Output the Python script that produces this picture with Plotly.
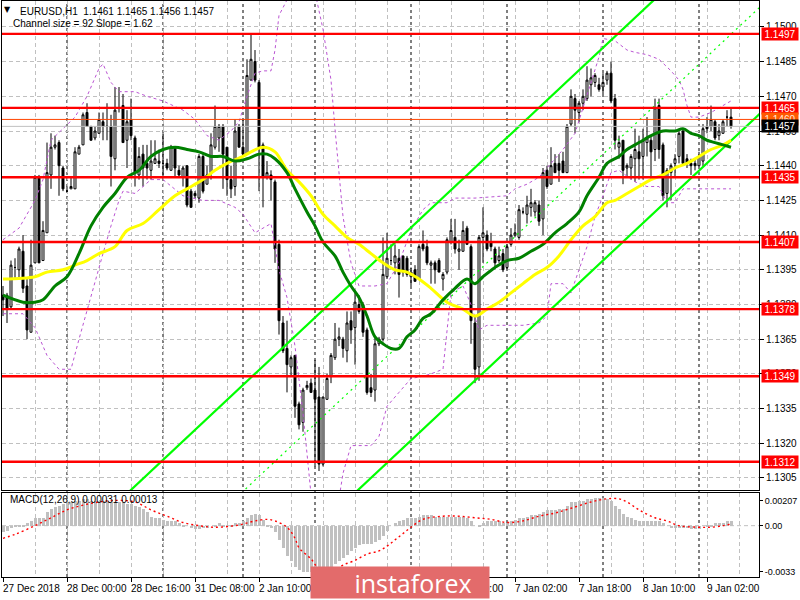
import plotly.graph_objects as go

# ---------------- DATA ----------------
bars = list(range(183))
opens = [1.1384,1.1384,1.1379,1.1396,1.1395,1.1403,1.1388,1.1368,1.1398,1.1435,
         1.1399,1.1411,1.1436,1.1448,1.1450,1.1439,1.1429,1.1430,1.1430,1.1445,
         1.1449,1.1463,1.1457,1.1452,1.1454,1.1459,1.1457,1.1457,1.1443,1.1465,
         1.1466,1.1451,1.1460,1.1452,1.1436,1.1445,1.1441,1.1438,1.1441,1.1442,
         1.1441,1.1441,1.1438,1.1448,1.1438,1.1435,1.1440,1.1429,1.1428,1.1426,
         1.1444,1.1432,1.1437,1.1448,1.1452,1.1457,1.1448,1.1434,1.1431,1.1457,
         1.1448,1.1445,1.1477,1.1485,1.1476,1.1449,1.1435,1.1436,1.1433,1.1406,
         1.1372,1.1361,1.1353,1.1358,1.1337,1.1329,1.1344,1.1346,1.1343,1.1340,
         1.1311,1.1339,1.1349,1.1357,1.1365,1.1365,1.1360,1.1373,1.1370,1.1380,
         1.1380,1.1369,1.1344,1.1343,1.1363,1.1365,1.1392,1.1399,1.1398,1.1400,
         1.1401,1.1400,1.1392,1.1395,1.1391,1.1406,1.1405,1.1397,1.1398,1.1399,
         1.1391,1.1394,1.1407,1.1409,1.1403,1.1403,1.1413,1.1405,1.1372,1.1353,
         1.1409,1.1410,1.1407,1.1404,1.1399,1.1402,1.1396,1.1406,1.1410,1.1409,
         1.1420,1.1419,1.1422,1.1420,1.1423,1.1417,1.1438,1.1432,1.1441,1.1441,
         1.1442,1.1437,1.1458,1.1469,1.1463,1.1467,1.1469,1.1475,1.1476,1.1475,
         1.1474,1.1477,1.1480,1.1469,1.1448,1.1451,1.1439,1.1439,1.1443,1.1446,
         1.1444,1.1450,1.1451,1.1447,1.1466,1.1449,1.1428,1.1437,1.1441,1.1444,
         1.1455,1.1443,1.1441,1.1441,1.1440,1.1442,1.1457,1.1457,1.1459,1.1453,
         1.1454,1.1461,1.1461]
highs = [1.1388,1.1385,1.1399,1.1400,1.1405,1.1410,1.1391,1.1408,1.1436,1.1436,
         1.1416,1.1450,1.1454,1.1453,1.1451,1.1440,1.1431,1.1435,1.1448,1.1449,
         1.1463,1.1467,1.1457,1.1457,1.1463,1.1463,1.1467,1.1462,1.1474,1.1474,
         1.1471,1.1464,1.1469,1.1453,1.1448,1.1449,1.1449,1.1451,1.1451,1.1447,
         1.1454,1.1443,1.1449,1.1448,1.1440,1.1440,1.1440,1.1430,1.1429,1.1445,
         1.1445,1.1440,1.1454,1.1466,1.1458,1.1458,1.1448,1.1440,1.1460,1.1458,
         1.1460,1.1486,1.1497,1.1490,1.1477,1.1450,1.1442,1.1438,1.1434,1.1408,
         1.1375,1.1373,1.1358,1.1358,1.1338,1.1344,1.1347,1.1348,1.1356,1.1353,
         1.1340,1.1350,1.1359,1.1372,1.1370,1.1366,1.1377,1.1377,1.1386,1.1384,
         1.1381,1.1370,1.1350,1.1366,1.1366,1.1409,1.1411,1.1406,1.1406,1.1404,
         1.1401,1.1401,1.1396,1.1397,1.1406,1.1412,1.1408,1.1399,1.1399,1.1400,
         1.1394,1.1409,1.1417,1.1417,1.1408,1.1416,1.1414,1.1406,1.1375,1.1410,
         1.1422,1.1412,1.1411,1.1405,1.1405,1.1404,1.1406,1.1413,1.1415,1.1423,
         1.1422,1.1427,1.1430,1.1425,1.1425,1.1439,1.1440,1.1448,1.1445,1.1445,
         1.1446,1.1458,1.1473,1.1471,1.1468,1.1473,1.1483,1.1482,1.1480,1.1478,
         1.1480,1.1481,1.1485,1.1471,1.1453,1.1451,1.1441,1.1445,1.1456,1.1453,
         1.1456,1.1461,1.1453,1.1469,1.1469,1.1450,1.1439,1.1441,1.1445,1.1456,
         1.1456,1.1445,1.1443,1.1443,1.1446,1.1458,1.1461,1.1466,1.1460,1.1458,
         1.1460,1.1464,1.1465]
lows = [1.1375,1.1372,1.1378,1.1391,1.1391,1.1385,1.1365,1.1368,1.1398,1.1398,
        1.1399,1.1411,1.1430,1.1447,1.1427,1.1429,1.1429,1.1430,1.1430,1.1445,
        1.1449,1.1457,1.1451,1.1451,1.1454,1.1451,1.1451,1.1431,1.1438,1.1463,
        1.1450,1.1439,1.1451,1.1431,1.1434,1.1431,1.1434,1.1434,1.1441,1.1439,
        1.1435,1.1438,1.1438,1.1435,1.1435,1.1431,1.1422,1.1422,1.1426,1.1424,
        1.1428,1.1432,1.1434,1.1447,1.1446,1.1430,1.1427,1.1426,1.1427,1.1448,
        1.1445,1.1445,1.1477,1.1476,1.1429,1.1422,1.1434,1.1425,1.1398,1.1367,
        1.1359,1.1342,1.1349,1.1331,1.1326,1.1325,1.1343,1.1342,1.1310,1.1308,
        1.1310,1.1339,1.1346,1.1356,1.1362,1.1357,1.1355,1.1363,1.1354,1.1376,
        1.1366,1.1341,1.1340,1.1338,1.1362,1.1364,1.1391,1.1397,1.1393,1.1383,
        1.1392,1.1392,1.1388,1.1390,1.1391,1.1403,1.1397,1.1389,1.1389,1.1394,
        1.1386,1.1393,1.1406,1.1402,1.1395,1.1403,1.1406,1.1363,1.1346,1.1347,
        1.1398,1.1403,1.1403,1.1396,1.1398,1.1394,1.1395,1.1405,1.1409,1.1408,
        1.1419,1.1415,1.1418,1.1418,1.1414,1.1410,1.1430,1.1432,1.1437,1.1433,
        1.1437,1.1437,1.1457,1.1454,1.1459,1.1464,1.1468,1.1470,1.1474,1.1472,
        1.1471,1.1475,1.1467,1.1447,1.1443,1.1432,1.1435,1.1434,1.1433,1.1434,
        1.1434,1.1444,1.1434,1.1442,1.1443,1.1425,1.1422,1.1425,1.1435,1.1441,
        1.1440,1.1439,1.1436,1.1438,1.1440,1.1440,1.1454,1.1455,1.1451,1.1451,
        1.1454,1.1457,1.1456]
closes = [1.1382,1.1378,1.1397,1.1396,1.1404,1.1387,1.1369,1.1397,1.1435,1.1398,
          1.1412,1.1437,1.1448,1.1449,1.1440,1.1430,1.1429,1.1431,1.1446,1.1448,
          1.1462,1.1457,1.1451,1.1455,1.1460,1.1457,1.1457,1.1444,1.1464,1.1465,
          1.1450,1.1459,1.1453,1.1437,1.1444,1.1439,1.1439,1.1442,1.1443,1.1441,
          1.1441,1.1439,1.1448,1.1439,1.1436,1.1439,1.1423,1.1422,1.1427,1.1444,
          1.1429,1.1436,1.1449,1.1457,1.1457,1.1445,1.1434,1.1430,1.1455,1.1448,
          1.1445,1.1479,1.1486,1.1477,1.1448,1.1435,1.1437,1.1434,1.1404,1.1373,
          1.1360,1.1354,1.1357,1.1336,1.1328,1.1343,1.1345,1.1342,1.1339,1.1311,
          1.1340,1.1348,1.1358,1.1365,1.1366,1.1361,1.1372,1.1369,1.1381,1.1377,
          1.1368,1.1342,1.1342,1.1363,1.1365,1.1393,1.1400,1.1399,1.1401,1.1393,
          1.1394,1.1393,1.1394,1.1390,1.1405,1.1404,1.1398,1.1398,1.1395,1.1394,
          1.1393,1.1408,1.1412,1.1404,1.1404,1.1412,1.1406,1.1373,1.1352,1.1409,
          1.1411,1.1404,1.1405,1.1398,1.1401,1.1395,1.1405,1.1410,1.1411,1.1421,
          1.1420,1.1423,1.1424,1.1424,1.1416,1.1437,1.1431,1.1440,1.1437,1.1438,
          1.1437,1.1457,1.1470,1.1464,1.1467,1.1470,1.1477,1.1478,1.1479,1.1473,
          1.1476,1.1480,1.1468,1.1451,1.1450,1.1438,1.1440,1.1444,1.1447,1.1443,
          1.1451,1.1452,1.1446,1.1465,1.1447,1.1427,1.1438,1.1440,1.1443,1.1454,
          1.1441,1.1441,1.1440,1.1440,1.1444,1.1456,1.1456,1.1460,1.1452,1.1455,
          1.1459,1.1461,1.1457]

# moving averages (sampled readings)
ma_green_bars = [0,5,8,10,13,16,19,22,25,28,31,34,37,40,43,46,49,52,55,58,61,64,66,68,71,73,76,78,80,83,85,87,89,91,93,95,97,99,101,103,105,107,110,113,116,118,120,123,126,129,132,135,138,141,144,146,149,151,154,156,159,162,165,168,170,172,174,176,178,180,182]
ma_green_vals = [1.1384,1.1381,1.1381,1.1382,1.1388,1.1392,1.1402,1.1414,1.1422,1.1428,1.1435,1.1438,1.1444,1.1447,1.1448,1.1447,1.1446,1.1444,1.1444,1.1442,1.1443,1.1445,1.1445,1.1443,1.1437,1.1430,1.1420,1.1414,1.1407,1.1401,1.1394,1.1388,1.1383,1.1375,1.1366,1.1363,1.1361,1.1361,1.1366,1.1369,1.1374,1.1376,1.1382,1.1387,1.1391,1.1389,1.1392,1.1396,1.1399,1.1400,1.1403,1.1406,1.1411,1.1415,1.1420,1.1427,1.1435,1.1441,1.1444,1.1447,1.1450,1.1453,1.1455,1.1455,1.1456,1.1454,1.1453,1.1451,1.1450,1.1449,1.1448]
ma_yellow_bars = [0,8,11,15,18,21,24,28,31,35,39,43,46,50,53,56,60,62,65,68,71,74,77,80,83,86,89,92,95,98,101,104,107,111,115,118,121,124,127,130,133,136,139,142,145,148,151,153,156,159,162,165,168,171,174,177,180,182]
ma_yellow_vals = [1.1391,1.1392,1.1394,1.1395,1.1397,1.1399,1.1402,1.1405,1.1412,1.1415,1.1421,1.1427,1.1430,1.1434,1.1438,1.1441,1.1444,1.1446,1.1448,1.1446,1.1438,1.1433,1.1427,1.1419,1.1414,1.1409,1.1406,1.1402,1.1398,1.1395,1.1394,1.1391,1.1387,1.1381,1.1378,1.1375,1.1378,1.1381,1.1385,1.1389,1.1393,1.1396,1.1401,1.1408,1.1414,1.1418,1.1424,1.1425,1.1428,1.1431,1.1434,1.1436,1.1439,1.1441,1.1444,1.1447,1.1449,1.1451]

# bands (sampled readings)
band_up_bars = [0,4,8,10,12,15,18,21,24,25,27,29,33,36,40,45,48,51,54,57,59,61,63,65,67,68,69,72,78,80,82,83,85,87,89,93,96,99,102,105,107,111,113,118,126,128,131,134,137,140,143,146,149,150,153,156,158,161,164,167,169,170,171,172,174,177,180,182]
band_up_vals = [1.1408,1.1413,1.1425,1.1434,1.1451,1.1456,1.1461,1.1470,1.1482,1.1484,1.1476,1.1472,1.1472,1.1470,1.1468,1.1464,1.1460,1.1453,1.1451,1.1455,1.1459,1.1470,1.1480,1.1481,1.1481,1.1490,1.1505,1.1515,1.1515,1.1499,1.1477,1.1456,1.1418,1.1398,1.1388,1.1388,1.1389,1.1398,1.1412,1.1421,1.1424,1.1424,1.1426,1.1426,1.1427,1.1430,1.1432,1.1435,1.1441,1.1447,1.1454,1.1470,1.1487,1.1495,1.1494,1.1490,1.1489,1.1488,1.1486,1.1481,1.1477,1.1473,1.1466,1.1461,1.1461,1.1463,1.1466,1.1468]
band_lo_bars = [0,5,8,11,14,17,19,22,25,27,29,30,33,37,40,45,50,54,58,60,63,64,66,67,69,71,73,75,77,79,83,85,87,92,94,96,99,102,105,107,110,112,115,117,119,121,130,134,136,137,140,142,144,146,148,150,152,154,158,161,164,166,168,170,174,178,182]
band_lo_vals = [1.1376,1.1376,1.1370,1.1358,1.1352,1.1352,1.1365,1.1384,1.1402,1.1414,1.1425,1.1429,1.1428,1.1434,1.1434,1.1427,1.1425,1.1425,1.1422,1.1419,1.1411,1.1412,1.1414,1.1415,1.1395,1.1383,1.1362,1.1333,1.1298,1.1285,1.1285,1.1307,1.1319,1.1319,1.1323,1.1336,1.1342,1.1348,1.1349,1.1350,1.1352,1.1385,1.1388,1.1380,1.1369,1.1371,1.1371,1.1372,1.1375,1.1389,1.1389,1.1385,1.1395,1.1405,1.1418,1.1427,1.1437,1.1438,1.1433,1.1431,1.1431,1.1424,1.1424,1.1430,1.1430,1.1430,1.1430]

# regression channel (upper line end points, channel size from the label)
channel_bars = [30, 190]
channel_top = [1.12966, 1.15558]
channel_size = 0.0092

levels = [1.1497, 1.1465, 1.1435, 1.1407, 1.1378, 1.1349, 1.1312]
ask_price = 1.1460
bid_price = 1.1457

# MACD
macd_hist = [-0.0004,-0.0003,-0.0001,0.0001,0.0001,0.0001,0.0002,0.0003,0.0005,0.0005,
             0.0005,0.0009,0.0011,0.0012,0.0013,0.0014,0.0015,0.0015,0.0016,0.0016,
             0.0017,0.0017,0.0016,0.0016,0.0016,0.0016,0.0015,0.0015,0.0015,0.0015,
             0.0015,0.0014,0.0014,0.0013,0.0012,0.0011,0.0009,0.0006,0.0005,0.0005,
             0.0004,0.0003,0.0003,0.0003,0.0002,0.0001,0.0000,-0.0001,-0.0002,-0.0002,
             -0.0001,-0.0001,0.0000,0.0001,0.0002,0.0001,0.0000,0.0001,0.0002,0.0002,
             0.0003,0.0005,0.0007,0.0008,0.0007,0.0004,0.0001,-0.0001,-0.0004,-0.0009,
             -0.0014,-0.0019,-0.0022,-0.0026,-0.0028,-0.0029,-0.0029,-0.0029,-0.0030,-0.0031,
             -0.0030,-0.0028,-0.0026,-0.0024,-0.0022,-0.0020,-0.0018,-0.0016,-0.0014,-0.0012,
             -0.0011,-0.0011,-0.0011,-0.0010,-0.0009,-0.0006,-0.0003,0.0000,0.0002,0.0003,
             0.0004,0.0005,0.0005,0.0005,0.0006,0.0007,0.0007,0.0007,0.0006,0.0006,
             0.0006,0.0006,0.0006,0.0006,0.0006,0.0006,0.0005,0.0003,0.0000,0.0001,
             0.0002,0.0003,0.0003,0.0003,0.0003,0.0002,0.0002,0.0003,0.0004,0.0005,
             0.0005,0.0006,0.0007,0.0007,0.0008,0.0009,0.0010,0.0010,0.0010,0.0011,
             0.0011,0.0013,0.0015,0.0015,0.0016,0.0016,0.0017,0.0017,0.0018,0.0018,
             0.0018,0.0017,0.0016,0.0013,0.0011,0.0008,0.0006,0.0005,0.0004,0.0003,
             0.0003,0.0003,0.0003,0.0003,0.0003,0.0002,0.0000,-0.0001,-0.0001,-0.0001,
             -0.0001,-0.0001,-0.0002,-0.0002,-0.0002,0.0000,0.0001,0.0001,0.0002,0.0002,
             0.0002,0.0003,0.0003]
signal_bars = [0,3,8,12,16,20,24,28,33,37,41,45,49,53,58,60,63,66,68,71,73,74,77,79,83,85,88,91,94,96,98,100,102,105,110,114,118,122,126,130,134,138,142,147,151,154,156,159,163,166,169,174,177,180,182]
signal_vals = [-0.0008,-0.00055,0.0000,0.0005,0.0010,0.0013,0.0015,0.0016,0.0015,0.0010,0.0006,0.0002,0.0000,-0.0001,0.0000,0.0001,0.0003,0.0004,0.0003,-0.0001,-0.0008,-0.0014,-0.0021,-0.0027,-0.0028,-0.0025,-0.0022,-0.0018,-0.0016,-0.0013,-0.0009,-0.0005,-0.0001,0.0004,0.0006,0.0006,0.0005,0.0004,0.0002,0.0003,0.0006,0.0008,0.0011,0.0015,0.0017,0.0017,0.0015,0.0010,0.0005,0.0003,0.0000,-0.0001,-0.0001,0.0000,0.0001]

time_tick_bars = [0,16,32,48,64,80,96,112,128,144,160,176]
time_tick_labels = ["27 Dec 2018","28 Dec 00:00","28 Dec 16:00","31 Dec 08:00","2 Jan 10:00",
                    "3 Jan 02:00","3 Jan 18:00","4 Jan 10:00","7 Jan 02:00","7 Jan 18:00",
                    "8 Jan 10:00","9 Jan 02:00"]
day_separator_bars = [16, 40, 60, 78, 102, 126, 150, 174]

macd_label_vals = [0.00159, 0.0, -0.00293]
macd_label_text = ["0.00207", "0.00", "-0.0033"]

# ---------------- FIGURE ----------------
FONT = "Liberation Sans, Arial, sans-serif"
FS = 10
GRID = '#C0C0C0'

fig = go.Figure()

fig.add_trace(go.Candlestick(
    x=bars, open=opens, high=highs, low=lows, close=closes,
    increasing=dict(fillcolor='white', line=dict(color='black', width=1)),
    decreasing=dict(fillcolor='black', line=dict(color='black', width=1)),
    whiskerwidth=0, xaxis='x', yaxis='y', hoverinfo='skip'))

fig.add_trace(go.Scatter(x=band_up_bars, y=band_up_vals, mode='lines',
                         line=dict(color='#BA55D3', width=1, dash='3px,3px'), hoverinfo='skip'))
fig.add_trace(go.Scatter(x=band_lo_bars, y=band_lo_vals, mode='lines',
                         line=dict(color='#BA55D3', width=1, dash='3px,3px'), hoverinfo='skip'))

ch_mid = [v - channel_size / 2 for v in channel_top]
ch_bot = [v - channel_size for v in channel_top]
fig.add_trace(go.Scatter(x=channel_bars, y=channel_top, mode='lines',
                         line=dict(color='#00FF00', width=2.2), hoverinfo='skip'))
fig.add_trace(go.Scatter(x=channel_bars, y=ch_bot, mode='lines',
                         line=dict(color='#00FF00', width=2.2), hoverinfo='skip'))
fig.add_trace(go.Scatter(x=channel_bars, y=ch_mid, mode='lines',
                         line=dict(color='#00FF00', width=1.2, dash='2px,4px'), hoverinfo='skip'))

fig.add_trace(go.Scatter(x=ma_yellow_bars, y=ma_yellow_vals, mode='lines', line_shape='spline',
                         line=dict(color='#FFFF00', width=3), hoverinfo='skip'))
fig.add_trace(go.Scatter(x=ma_green_bars, y=ma_green_vals, mode='lines', line_shape='spline',
                         line=dict(color='#008000', width=3), hoverinfo='skip'))

# MACD
fig.add_trace(go.Bar(x=bars, y=macd_hist, marker=dict(color='#C0C0C0', line=dict(width=0)),
                     width=0.75, xaxis='x2', yaxis='y2', hoverinfo='skip'))
fig.add_trace(go.Scatter(x=signal_bars, y=signal_vals, mode='lines', line_shape='spline',
                         line=dict(color='#FF0000', width=1.4, dash='2px,3px'),
                         xaxis='x2', yaxis='y2', hoverinfo='skip'))

shapes = []
for b in day_separator_bars:
    shapes.append(dict(type='line', xref='x', yref='paper', x0=b, x1=b, y0=0, y1=1,
                       line=dict(color='black', width=1, dash='3px,3px'), layer='between'))
shapes.append(dict(type='line', xref='paper', yref='y2', x0=0, x1=1, y0=0, y1=0,
                   line=dict(color=GRID, width=1, dash='4px,3px'), layer='between'))
for lv in levels:
    shapes.append(dict(type='line', xref='paper', yref='y', x0=0, x1=1, y0=lv, y1=lv,
                       line=dict(color='#FF0000', width=2.4), layer='above'))
shapes.append(dict(type='line', xref='paper', yref='y', x0=0, x1=1, y0=ask_price, y1=ask_price,
                   line=dict(color='#FF4500', width=1), layer='above'))
shapes.append(dict(type='line', xref='paper', yref='y', x0=0, x1=1, y0=bid_price, y1=bid_price,
                   line=dict(color='#C0C0C0', width=1), layer='above'))

annotations = []
for lv in levels:
    annotations.append(dict(xref='paper', yref='y', x=1, y=lv, xanchor='left', yanchor='middle',
                            xshift=2, text=f"{lv:.4f}", showarrow=False, bgcolor='#FF0000',
                            font=dict(family=FONT, size=FS, color='white'),
                            width=34, height=10, borderpad=1))
annotations.append(dict(xref='paper', yref='y', x=1, y=ask_price, xanchor='left', yanchor='middle',
                        xshift=2, text=f"{ask_price:.4f}", showarrow=False, bgcolor='#FF5A00',
                        font=dict(family=FONT, size=FS, color='#FFE8D8'),
                        width=34, height=10, borderpad=1))
annotations.append(dict(xref='paper', yref='y', x=1, y=bid_price, xanchor='left', yanchor='middle',
                        xshift=2, text=f"{bid_price:.4f}", showarrow=False, bgcolor='black',
                        font=dict(family=FONT, size=FS, color='white'),
                        width=34, height=10, borderpad=1))
for b, t in zip(time_tick_bars, time_tick_labels):
    annotations.append(dict(xref='x2', yref='paper', x=b, y=0, xanchor='left', yanchor='top',
                            xshift=-2, yshift=-4, text=t, showarrow=False,
                            font=dict(family=FONT, size=FS, color='black')))
# header texts
annotations.append(dict(xref='paper', yref='paper', x=0.0079, y=0.9844, xanchor='center',
                        yanchor='middle', text='\u25BC', showarrow=False,
                        font=dict(family='DejaVu Sans', size=8, color='black')))
annotations.append(dict(xref='paper', yref='paper', x=0.0211, y=0.9826, xanchor='left',
                        yanchor='middle', showarrow=False,
                        text='EURUSD,H1\u00a0\u00a01.1461 1.1465 1.1456 1.1457',
                        font=dict(family=FONT, size=FS, color='black')))
annotations.append(dict(xref='paper', yref='paper', x=0.0119, y=0.9618, xanchor='left',
                        yanchor='middle', showarrow=False,
                        text='Channel size = 92 Slope = 1.62',
                        font=dict(family=FONT, size=FS, color='black')))
annotations.append(dict(xref='paper', yref='paper', x=0.0079, y=0.1337, xanchor='left',
                        yanchor='middle', showarrow=False,
                        text='MACD(12,26,9) 0.00031 0.00013',
                        font=dict(family=FONT, size=FS, color='black')))
# watermark
annotations.append(dict(xref='paper', yref='paper', x=0.5258, y=-0.00955, xanchor='center',
                        yanchor='middle', showarrow=False,
                        text='\u00a0\u00a0\u00a0\u00a0instaforex', bgcolor='#E36B6B',
                        width=178, height=31, borderpad=0,
                        font=dict(family='Open Sans, Liberation Sans, sans-serif', size=25,
                                  color='white')))

fig.update_layout(
    width=800, height=600,
    margin=dict(l=2, r=41, t=1, b=23),
    paper_bgcolor='white', plot_bgcolor='white',
    showlegend=False, hovermode=False, bargap=0,
    shapes=shapes, annotations=annotations,
    xaxis=dict(domain=[0, 1], anchor='y', range=[-0.25, 189], showticklabels=False, ticks='',
               tick0=0, dtick=8, showgrid=True, gridcolor=GRID, griddash='4px,3px',
               showline=True, linecolor='black', linewidth=1, mirror=True, zeroline=False,
               rangeslider=dict(visible=False), fixedrange=True),
    yaxis=dict(domain=[0.15104, 1], anchor='x', side='right', range=[1.12998, 1.15112],
               tick0=1.1305, dtick=0.0015, tickformat='.4f', ticks='outside', ticklen=4,
               tickcolor='black', showgrid=True, gridcolor=GRID, griddash='4px,3px',
               showline=True, linecolor='black', linewidth=1, mirror=True, zeroline=False,
               automargin=False,
               tickfont=dict(family=FONT, size=FS, color='black'), fixedrange=True),
    xaxis2=dict(domain=[0, 1], anchor='y2', matches='x', range=[-0.25, 189],
                tickvals=time_tick_bars, ticks='outside', ticklen=4, tickcolor='black',
                showticklabels=False, showgrid=True, gridcolor=GRID, griddash='4px,3px',
                minor=dict(dtick=8, tick0=0, showgrid=True, gridcolor=GRID, griddash='4px,3px',
                           ticks=''),
                showline=True, linecolor='black', linewidth=1, mirror=True, zeroline=False,
                automargin=False, fixedrange=True),
    yaxis2=dict(domain=[0, 0.1467], anchor='x2', side='right', range=[-0.00325, 0.0021],
                tickvals=macd_label_vals, ticktext=macd_label_text, ticks='outside', ticklen=3,
                tickcolor='black', showgrid=False, zeroline=False,
                showline=True, linecolor='black', linewidth=1, mirror=True, automargin=False,
                tickfont=dict(family=FONT, size=9, color='black'), fixedrange=True),
)

fig.write_html("out.html", config={'displayModeBar': False},
               post_script="document.body.style.margin='0px';document.body.style.overflow='hidden';")
